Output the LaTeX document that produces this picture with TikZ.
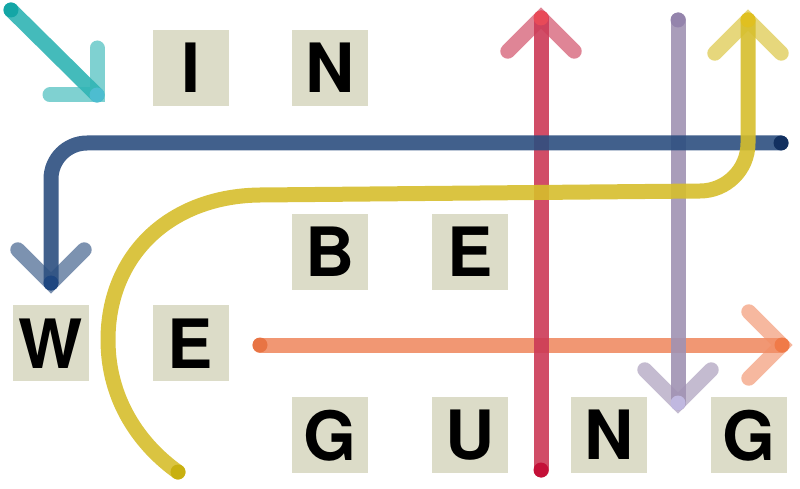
\documentclass[tikz,border=0pt]{standalone}
\usepackage{fontspec}
\setsansfont{TeX Gyre Heros}
\usepackage{tikz}
\usetikzlibrary{arrows.meta}

\definecolor{tileC}{HTML}{DCDCC8}
\definecolor{tealC}{HTML}{30B4B4}
\definecolor{tealS}{HTML}{14A6A6}
\definecolor{tealE}{HTML}{4DBDD0}
\definecolor{redC}{HTML}{CC3A56}
\definecolor{redS}{HTML}{C41038}
\definecolor{redE}{HTML}{E84A58}
\definecolor{blueC}{HTML}{2C4F80}
\definecolor{blueS}{HTML}{123060}
\definecolor{blueE}{HTML}{1E4680}
\definecolor{purpC}{HTML}{A092B3}
\definecolor{purpS}{HTML}{9484AC}
\definecolor{purpE}{HTML}{C0B8E0}
\definecolor{yelC}{HTML}{D6BE2C}
\definecolor{yelS}{HTML}{C8B010}
\definecolor{yelE}{HTML}{E0C020}
\definecolor{oraC}{HTML}{F08C64}
\definecolor{oraS}{HTML}{E87444}
\definecolor{oraE}{HTML}{F07A48}

\newcommand\chev[3]{\draw[chev,#1] (#2) ++(#3+135:\arm) -- (#2) -- ++(#3-135:\arm);}

\begin{document}
\begin{tikzpicture}[x=1pt,y=-1pt]

\def\gx{139.6}
\def\gy{91.8}
\def\arm{47}
\tikzstyle{tile} = [
	fill=tileC, rectangle, inner sep=0pt, text depth=0pt,
	minimum size=76pt, font=\sffamily\bfseries\fontsize{68}{68}\selectfont ];
\tikzstyle{line} = [line width=15pt, line cap=round, opacity=.9];
\tikzstyle{chev} = [line width=15pt, line cap=round, line join=miter, opacity=.62];
\tikzstyle{dot} = [radius=7.5];

\useasboundingbox (0,0) rectangle (800,489);

\begin{scope}[shift={(51,68)}]
\node[tile] (w0) at (1*\gx,0*\gy) {I};
\node[tile] (w1) at (2*\gx,0*\gy) {N};
\node[tile] (w2) at (2*\gx,2*\gy) {B};
\node[tile] (w3) at (3*\gx,2*\gy) {E};
\node[tile] (w4) at (0*\gx,3*\gy) {W};
\node[tile] (w5) at (1*\gx,3*\gy) {E};
\node[tile] (w6) at (2*\gx,4*\gy) {G};
\node[tile] (w7) at (3*\gx,4*\gy) {U};
\node[tile] (w8) at (4*\gx,4*\gy) {N};
\node[tile] (w9) at (5*\gx,4*\gy) {G};
\end{scope}

\coordinate (t0) at (11,10);   \coordinate (t1) at (97,95);
\coordinate (r0) at (541,470); \coordinate (r1) at (541,18);
\coordinate (p0) at (678,20);  \coordinate (p1) at (678,403);
\coordinate (b0) at (781,143); \coordinate (bc) at (51,143); \coordinate (b1) at (51,283);
\coordinate (o0) at (260,345); \coordinate (o1) at (782,345);
\coordinate (y0) at (178,472); \coordinate (y1) at (748,20);

\draw[line,oraC] (o0) -- (o1);
\draw[line,redC] (r0) -- (r1);
\draw[line,purpC] (p0) -- (p1);
\draw[line,blueC,rounded corners=36pt] (b0) -- (bc) -- (b1);
\draw[line,yelC] (y0) .. controls (140,445) and (108,400) .. (108,340)
	.. controls (108,255) and (170,196) .. (260,195) -- (700,191)
	.. controls (726,191) and (748,170) .. (748,143) -- (y1);
\draw[line,tealC] (t0) -- (t1);

\chev{oraC}{o1}{0}
\chev{redC}{r1}{-90}
\chev{purpC}{p1}{90}
\chev{blueC}{b1}{90}
\chev{yelC}{y1}{-90}
\chev{tealC}{t1}{45}

\fill[oraS] (o0) circle[dot];  \fill[oraE] (o1) circle[dot];
\fill[redS] (r0) circle[dot];  \fill[redE] (r1) circle[dot];
\fill[purpS] (p0) circle[dot]; \fill[purpE] (p1) circle[dot];
\fill[blueS] (b0) circle[dot]; \fill[blueE] (b1) circle[dot];
\fill[yelS] (y0) circle[dot];  \fill[yelE] (y1) circle[dot];
\fill[tealS] (t0) circle[dot]; \fill[tealE] (t1) circle[dot];

\end{tikzpicture}
\end{document}
